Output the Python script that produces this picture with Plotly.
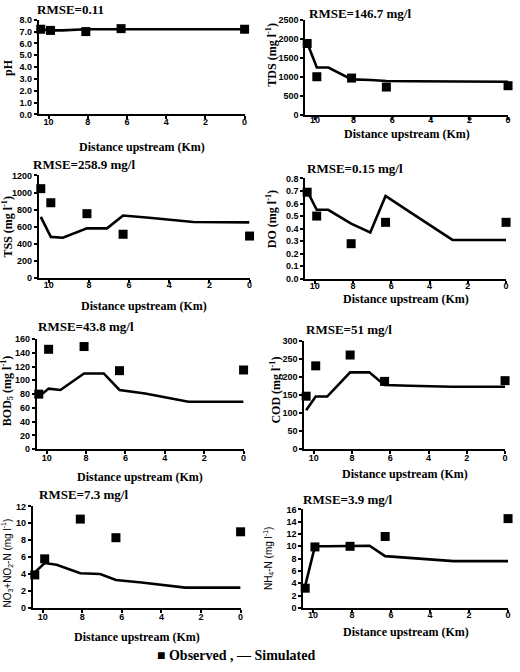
import plotly.graph_objects as go

W, H = 520, 672

obs_x = [10.4, 9.9, 8.1, 6.3, 0.0]
sim_x = [10.4, 9.9, 9.3, 8.1, 7.1, 6.3, 5.0, 4.0, 2.8, 0.0]
x_ticks = [10, 8, 6, 4, 2, 0]

ph_obs = [7.2, 7.1, 7.0, 7.25, 7.2]
ph_sim = [7.2, 7.1, 7.1, 7.2, 7.2, 7.2, 7.2, 7.2, 7.2, 7.2]
tds_obs = [1880, 1010, 975, 740, 775]
tds_sim = [1900, 1255, 1250, 940, 925, 900, 890, 885, 882, 880]
tss_obs = [1045, 880, 752, 511, 490]
tss_sim = [715, 480, 470, 580, 580, 730, 705, 680, 655, 650]
do_obs = [0.69, 0.50, 0.28, 0.45, 0.45]
do_sim = [0.70, 0.55, 0.55, 0.44, 0.37, 0.66, 0.53, 0.43, 0.31, 0.31]
bod_obs = [80, 145, 149, 114, 115]
bod_sim = [76, 88, 86, 110, 110, 86, 81, 76, 69, 69]
cod_obs = [147, 231, 261, 188, 190]
cod_sim = [108, 146, 146, 213, 213, 178, 176, 174, 173, 173]
no3_obs = [3.9, 5.8, 10.5, 8.3, 9.0]
no3_sim = [4.2, 5.3, 5.1, 4.1, 4.0, 3.3, 3.0, 2.7, 2.4, 2.4]
nh4_obs = [3.2, 9.9, 10.0, 11.6, 14.5]
nh4_sim = [3.6, 10.0, 10.0, 10.0, 10.1, 8.4, 8.1, 7.9, 7.6, 7.6]

serif = "Liberation Serif, Times New Roman, serif"
sans = "Liberation Sans, Arial, sans-serif"

panels = [
    dict(obs=ph_obs, sim=ph_sim, yr=[0, 8], dt=1, fmt=".1f", ytitle="<b>pH</b>", yfont=(serif, 12),
         rmse="RMSE=0.11", xd=(39, 246), yd=(15, 111), so=-5,
         rm_xy=(71, 5), yt_xy=(8, 63), xt_y=144),
    dict(obs=tds_obs, sim=tds_sim, yr=[0, 2500], dt=500, fmt="",
         ytitle="<b>TDS (mg l<sup>-1</sup>)</b>", yfont=(serif, 12),
         rmse="RMSE=146.7 mg/l", xd=(307, 511), yd=(15, 112), so=-8,
         rm_xy=(362, 9), yt_xy=(273, 50), xt_y=131),
    dict(obs=tss_obs, sim=tss_sim, yr=[0, 1200], dt=200, fmt="",
         ytitle="<b>TSS (mg l<sup>-1</sup>)</b>", yfont=(serif, 12),
         rmse="RMSE=258.9 mg/l", xd=(39, 251), yd=(173, 277), so=-6,
         rm_xy=(84, 162), yt_xy=(8, 225), xt_y=306),
    dict(obs=do_obs, sim=do_sim, yr=[0, 0.8], dt=0.1, fmt=".1f",
         ytitle="<b>DO (mg l<sup>-1</sup>)</b>", yfont=(serif, 12),
         rmse="RMSE=0.15 mg/l", xd=(307, 509), yd=(176, 278), so=-6,
         rm_xy=(357, 166), yt_xy=(273, 217), xt_y=298),
    dict(obs=bod_obs, sim=bod_sim, yr=[0, 160], dt=20, fmt="",
         ytitle="<b>BOD<sub>5</sub> (mg l<sup>-1</sup>)</b>", yfont=(serif, 12),
         rmse="RMSE=43.8 mg/l", xd=(37, 245), yd=(339, 451), so=-4,
         rm_xy=(87, 326), yt_xy=(7, 391), xt_y=479),
    dict(obs=cod_obs, sim=cod_sim, yr=[0, 300], dt=50, fmt="",
         ytitle="<b>COD (mg l<sup>-1</sup>)</b>", yfont=(serif, 12),
         rmse="RMSE=51 mg/l", xd=(306, 508), yd=(341, 451), so=-4,
         rm_xy=(351, 329), yt_xy=(277, 391), xt_y=476),
    dict(obs=no3_obs, sim=no3_sim, yr=[0, 12], dt=2, fmt="",
         ytitle="NO<sub>3</sub>+NO<sub>2</sub>-N (mg l<sup>-1</sup>)", yfont=(sans, 10),
         rmse="RMSE=7.3 mg/l", xd=(33, 242), yd=(509, 612), so=-4,
         rm_xy=(84, 497), yt_xy=(7, 566), xt_y=642),
    dict(obs=nh4_obs, sim=nh4_sim, yr=[0, 16], dt=2, fmt="",
         ytitle="NH<sub>4</sub>-N (mg l<sup>-1</sup>)", yfont=(sans, 10),
         rmse="RMSE=3.9 mg/l", xd=(305, 511), yd=(512, 612), so=-6,
         rm_xy=(350, 502), yt_xy=(270, 561), xt_y=636),
]

fig = go.Figure()
layout = dict(width=W, height=H, margin=dict(l=0, r=0, t=0, b=0),
              paper_bgcolor="white", plot_bgcolor="white", showlegend=False)
annotations = []

for i, p in enumerate(panels, start=1):
    xa = "x" if i == 1 else f"x{i}"
    ya = "y" if i == 1 else f"y{i}"
    fig.add_trace(go.Scatter(x=sim_x, y=p["sim"], mode="lines",
                             line=dict(color="black", width=2.6),
                             xaxis=xa, yaxis=ya, cliponaxis=False, name="Simulated"))
    fig.add_trace(go.Scatter(x=obs_x, y=p["obs"], mode="markers",
                             marker=dict(symbol="square", size=9, color="black"),
                             xaxis=xa, yaxis=ya, cliponaxis=False, name="Observed"))
    x0, x1 = p["xd"]
    y0, y1 = p["yd"]
    layout["xaxis" if i == 1 else f"xaxis{i}"] = dict(
        domain=[x0 / W, x1 / W], anchor=ya, range=[10.5, 0],
        tickvals=x_ticks, ticktext=[str(t) for t in x_ticks],
        showline=True, linecolor="black", linewidth=2, showgrid=False, zeroline=False,
        ticks="outside", ticklen=3, tickwidth=1.5, tickcolor="black",
        ticklabelstandoff=p["so"],
        tickfont=dict(family=sans, size=9, color="black", weight="bold"))
    layout["yaxis" if i == 1 else f"yaxis{i}"] = dict(
        domain=[1 - y1 / H, 1 - y0 / H], anchor=xa, range=p["yr"], dtick=p["dt"],
        tick0=0, tickformat=p["fmt"],
        showline=True, linecolor="black", linewidth=2, showgrid=False, zeroline=False,
        ticks="outside", ticklen=3, tickwidth=1.5, tickcolor="black",
        tickfont=dict(family=sans, size=9, color="black", weight="bold"))
    rx, ry = p["rm_xy"]
    annotations.append(dict(text="<b>" + p["rmse"] + "</b>", x=rx / W, y=1 - ry / H,
                            xref="paper", yref="paper", showarrow=False,
                            xanchor="center", yanchor="middle",
                            font=dict(family=serif, size=13, color="black")))
    tx, ty = p["yt_xy"]
    fam, sz = p["yfont"]
    annotations.append(dict(text=p["ytitle"], x=tx / W, y=1 - ty / H,
                            xref="paper", yref="paper", showarrow=False, textangle=-90,
                            xanchor="center", yanchor="middle",
                            font=dict(family=fam, size=sz, color="black")))
    annotations.append(dict(text="<b>Distance upstream (Km)</b>", x=(x0 + x1) / 2 / W,
                            y=1 - p["xt_y"] / H, xref="paper", yref="paper", showarrow=False,
                            xanchor="center", yanchor="middle",
                            font=dict(family=serif, size=12, color="black")))

annotations.append(dict(text="<b>■ Observed , — Simulated</b>", x=237 / W, y=1 - 660 / H,
                        xref="paper", yref="paper", showarrow=False,
                        xanchor="center", yanchor="middle",
                        font=dict(family=serif, size=14, color="black")))
layout["annotations"] = annotations
fig.update_layout(**layout)
fig.write_html("out.html", config={"displayModeBar": False},
               post_script="document.body.style.margin='0';document.body.style.overflow='hidden';")
